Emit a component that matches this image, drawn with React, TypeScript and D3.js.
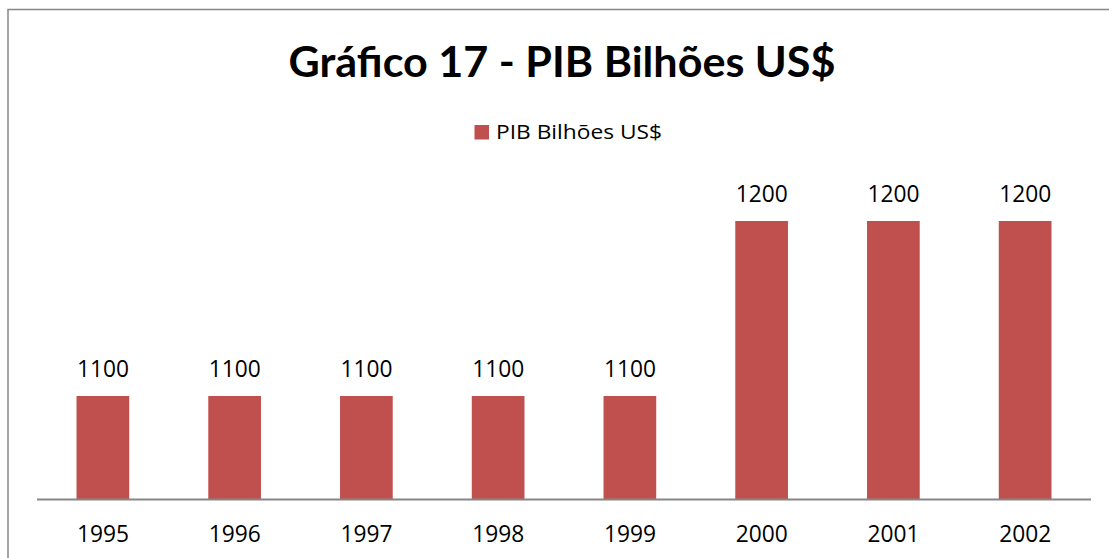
import React from "react";
import * as d3 from "d3";

const years: string[] = ["1995", "1996", "1997", "1998", "1999", "2000", "2001", "2002"];
const pib: number[] = [1100, 1100, 1100, 1100, 1100, 1200, 1200, 1200];
const seriesName = "PIB Bilhões US$";
const titleText = "Gráfico 17 - PIB Bilhões US$";

const W = 1109;
const H = 558;
const FONT = "'Open Sans', Lato, sans-serif";
const TFONT = "Lato, 'Open Sans', sans-serif";
const BAR = "#C0504D";

export default function App() {
  const x = d3.scaleBand<string>().domain(years).range([37, 1091]).paddingInner(0.6).paddingOuter(0.3);
  const y = d3.scaleLinear().domain([1040, 1220]).range([501, 186]);
  const axisY = 499.5;

  return (
    <div style={{ position: "fixed", left: 0, top: 0, width: W, height: H, background: "#fff" }}>
      <svg width={W} height={H} style={{ display: "block" }}>
        <rect x={8} y={9.5} width={W + 20} height={H + 20} fill="#fff" stroke="#868686" strokeWidth={1.5} />
        <text x={562} y={77} textAnchor="middle" fontFamily={TFONT} fontWeight={700} fontSize={42}
          textLength={547} lengthAdjust="spacingAndGlyphs" fill="#000">{titleText}</text>
        <rect x={474.5} y={125} width={14.5} height={14.5} fill={BAR} />
        <text x={496} y={139} fontFamily={FONT} fontSize={20} fill="#000"
          textLength={166} lengthAdjust="spacingAndGlyphs">{seriesName}</text>
        {years.map((yr, i) => (
          <g key={yr}>
            <rect x={x(yr)!} y={y(pib[i])} width={x.bandwidth()} height={axisY - y(pib[i])} fill={BAR} />
            <text x={x(yr)! + x.bandwidth() / 2} y={y(pib[i]) - 19.5} textAnchor="middle"
              fontFamily={FONT} fontSize={24} textLength={52} lengthAdjust="spacingAndGlyphs"
              fill="#000">{d3.format("d")(pib[i])}</text>
            <text x={x(yr)! + x.bandwidth() / 2} y={541.5} textAnchor="middle"
              fontFamily={FONT} fontSize={24} textLength={52} lengthAdjust="spacingAndGlyphs"
              fill="#000">{yr}</text>
          </g>
        ))}
        <line x1={37} x2={1091} y1={axisY} y2={axisY} stroke="#868686" strokeWidth={2} />
      </svg>
    </div>
  );
}
